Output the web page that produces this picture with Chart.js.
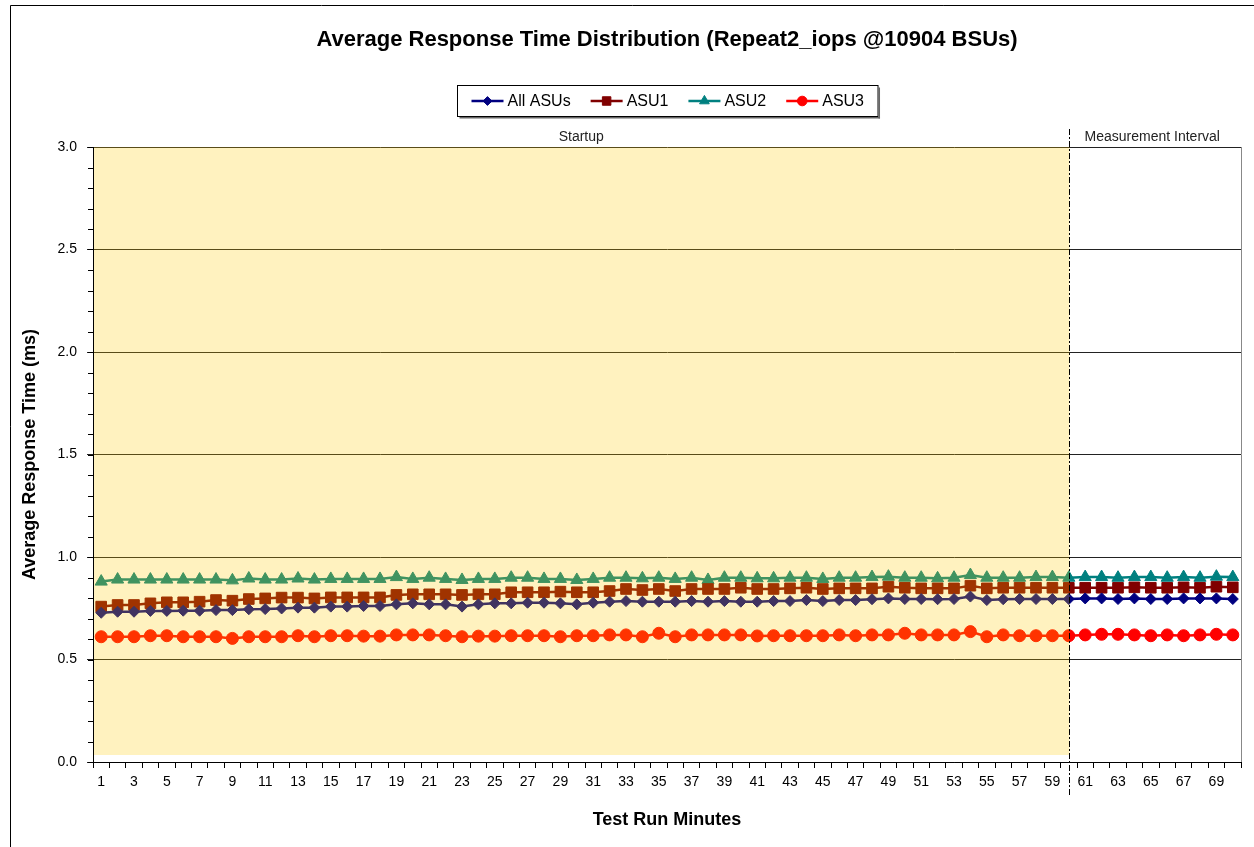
<!DOCTYPE html>
<html>
<head>
<meta charset="utf-8">
<script src="https://cdn.jsdelivr.net/npm/chart.js@4.4.1/dist/chart.umd.min.js"></script>
<style>
  html, body { margin: 0; padding: 0; background: #fff; }
</style>
</head>
<body>
<canvas id="rtChart" width="1254" height="847"></canvas>
<script>
// CHART DATA
var minutes = [];
for (var i = 1; i <= 70; i++) minutes.push(String(i));

var allAsus = [0.728, 0.733, 0.733, 0.737, 0.737, 0.738, 0.738, 0.741, 0.741, 0.745,
  0.746, 0.749, 0.753, 0.753, 0.758, 0.758, 0.761, 0.761, 0.769, 0.774,
  0.769, 0.769, 0.758, 0.769, 0.774, 0.774, 0.777, 0.777, 0.774, 0.769,
  0.777, 0.782, 0.785, 0.782, 0.782, 0.782, 0.785, 0.782, 0.785, 0.782,
  0.782, 0.785, 0.785, 0.790, 0.785, 0.790, 0.790, 0.794, 0.798, 0.795,
  0.795, 0.794, 0.795, 0.807, 0.790, 0.794, 0.795, 0.795, 0.795, 0.795,
  0.798, 0.798, 0.795, 0.798, 0.795, 0.795, 0.798, 0.798, 0.798, 0.795];

var asu1 = [0.758, 0.766, 0.766, 0.774, 0.779, 0.779, 0.782, 0.790, 0.787, 0.795,
  0.798, 0.802, 0.802, 0.798, 0.803, 0.803, 0.803, 0.803, 0.815, 0.818,
  0.818, 0.818, 0.815, 0.818, 0.818, 0.828, 0.828, 0.828, 0.831, 0.828,
  0.828, 0.834, 0.844, 0.839, 0.844, 0.834, 0.844, 0.844, 0.844, 0.850,
  0.844, 0.844, 0.847, 0.850, 0.844, 0.847, 0.847, 0.847, 0.855, 0.850,
  0.847, 0.847, 0.847, 0.860, 0.847, 0.850, 0.850, 0.850, 0.850, 0.850,
  0.850, 0.850, 0.850, 0.852, 0.850, 0.850, 0.852, 0.850, 0.855, 0.852];

var asu2 = [0.880, 0.890, 0.890, 0.890, 0.890, 0.890, 0.890, 0.890, 0.886, 0.895,
  0.890, 0.890, 0.895, 0.890, 0.893, 0.893, 0.893, 0.893, 0.902, 0.893,
  0.899, 0.893, 0.888, 0.893, 0.893, 0.899, 0.899, 0.893, 0.893, 0.888,
  0.893, 0.899, 0.899, 0.896, 0.899, 0.893, 0.899, 0.888, 0.899, 0.899,
  0.896, 0.896, 0.899, 0.899, 0.893, 0.899, 0.899, 0.902, 0.904, 0.899,
  0.899, 0.896, 0.899, 0.912, 0.899, 0.899, 0.899, 0.902, 0.902, 0.899,
  0.902, 0.902, 0.899, 0.902, 0.902, 0.899, 0.902, 0.899, 0.904, 0.902];

var asu3 = [0.611, 0.611, 0.611, 0.616, 0.616, 0.611, 0.611, 0.611, 0.603, 0.611,
  0.611, 0.611, 0.616, 0.611, 0.616, 0.616, 0.614, 0.614, 0.620, 0.620,
  0.620, 0.616, 0.611, 0.614, 0.614, 0.616, 0.616, 0.616, 0.611, 0.616,
  0.616, 0.620, 0.620, 0.611, 0.628, 0.611, 0.620, 0.620, 0.620, 0.620,
  0.615, 0.616, 0.616, 0.616, 0.616, 0.620, 0.616, 0.620, 0.620, 0.628,
  0.620, 0.620, 0.620, 0.636, 0.611, 0.620, 0.616, 0.616, 0.616, 0.616,
  0.620, 0.623, 0.623, 0.620, 0.616, 0.620, 0.616, 0.620, 0.623, 0.620];

var startupEnd = '60';   // last minute of the startup phase
var phaseNames = ['Startup', 'Measurement Interval'];
var chartTitle = 'Average Response Time Distribution (Repeat2_iops @10904 BSUs)';

var FONT = '"Liberation Sans", Arial, sans-serif';

function series(label, data, color, style, radius) {
  return {
    label: label,
    data: data,
    borderColor: color,
    backgroundColor: color,
    borderWidth: 2.5,
    pointStyle: style,
    pointRadius: radius,
    pointBorderWidth: 1,
    pointBorderColor: color,
    pointBackgroundColor: color,
    tension: 0,
    fill: false
  };
}

// EXTRA DRAWING - title, legend box, phase shading, minor ticks
var decorPlugin = {
  id: 'decor',
  beforeDraw: function (chart) {
    var ctx = chart.ctx;
    ctx.save();
    ctx.fillStyle = '#fff';
    ctx.fillRect(0, 0, chart.width, chart.height);
    ctx.restore();
  },
  afterDatasetsDraw: function (chart) {
    var ctx = chart.ctx;
    var area = chart.chartArea;
    var xs = chart.scales.x;
    var ys = chart.scales.y;
    var splitX = Math.round(xs.getPixelForValue(minutes.indexOf(startupEnd))) + 0.5;

    ctx.save();
    // startup shading (semi transparent, lies over the lines)
    ctx.fillStyle = 'rgba(255, 204, 0, 0.25)';
    ctx.fillRect(area.left + 1, area.top, splitX - area.left - 1, ys.getPixelForValue(0) - 7 - area.top);

    // right border of plot
    ctx.strokeStyle = '#888';
    ctx.lineWidth = 1;
    ctx.beginPath();
    ctx.moveTo(area.right + 0.5, area.top);
    ctx.lineTo(area.right + 0.5, area.bottom);
    ctx.stroke();

    // phase divider
    ctx.strokeStyle = '#000';
    ctx.setLineDash([6, 2, 2, 2]);
    ctx.beginPath();
    ctx.moveTo(splitX, area.top - 18);
    ctx.lineTo(splitX, area.bottom + 33);
    ctx.stroke();
    ctx.setLineDash([]);

    // phase labels
    ctx.fillStyle = '#222';
    ctx.font = '14px ' + FONT;
    ctx.textAlign = 'center';
    ctx.textBaseline = 'middle';
    ctx.fillText(phaseNames[0], (area.left + splitX) / 2, area.top - 10);
    ctx.fillText(phaseNames[1], (splitX + area.right) / 2 - 3, area.top - 10);

    // minor ticks on y axis
    ctx.strokeStyle = '#000';
    ctx.beginPath();
    for (var t = 0; t <= 30; t++) {
      var py = Math.round(ys.getPixelForValue(t / 10)) + 0.5;
      ctx.moveTo(area.left - 5, py);
      ctx.lineTo(area.left, py);
    }
    ctx.stroke();

    // outer frame
    ctx.beginPath();
    ctx.moveTo(10.5, chart.height);
    ctx.lineTo(10.5, 5.5);
    ctx.lineTo(chart.width, 5.5);
    ctx.stroke();

    // title
    var midX = (area.left + area.right) / 2;
    ctx.fillStyle = '#000';
    ctx.font = 'bold 22px ' + FONT;
    ctx.fillText(chartTitle, midX, 40);

    // legend
    ctx.font = '16px ' + FONT;
    var sets = chart.data.datasets;
    var lineW = 32, gap = 4, space = 20, pad = 14;
    var total = pad * 2 - space;
    sets.forEach(function (ds) { total += lineW + gap + ctx.measureText(ds.label).width + space; });
    var bx = Math.round(midX - total / 2) + 0.5;
    var by = 85.5, bh = 31;
    ctx.strokeStyle = '#000';
    ctx.strokeRect(bx, by, total, bh);
    ctx.fillStyle = '#666';
    ctx.fillRect(bx + 2, by + bh + 0.5, total, 1.5);
    ctx.fillRect(bx + total + 0.5, by + 2, 1.5, bh);
    var cx = bx + pad;
    var cy = by + bh / 2;
    sets.forEach(function (ds) {
      ctx.strokeStyle = ds.borderColor;
      ctx.lineWidth = 2.5;
      ctx.beginPath();
      ctx.moveTo(cx, cy);
      ctx.lineTo(cx + lineW, cy);
      ctx.stroke();
      ctx.fillStyle = ds.borderColor;
      ctx.lineWidth = 1;
      Chart.helpers.drawPoint(ctx, { pointStyle: ds.pointStyle, radius: ds.pointRadius * 0.8, borderWidth: 1, rotation: 0 }, cx + lineW / 2, cy);
      ctx.fillStyle = '#000';
      ctx.textAlign = 'left';
      ctx.fillText(ds.label, cx + lineW + gap, cy + 1);
      cx += lineW + gap + ctx.measureText(ds.label).width + space;
    });
    ctx.restore();
  }
};

var ctx = document.getElementById('rtChart').getContext('2d');
var chart = new Chart(ctx, {
  type: 'line',
  data: {
    labels: minutes,
    datasets: [
      series('All ASUs', allAsus, '#000080', 'rectRot', 5.5),
      series('ASU1', asu1, '#800000', 'rect', 7.5),
      series('ASU2', asu2, '#008080', 'triangle', 7),
      series('ASU3', asu3, '#ff0000', 'circle', 6)
    ]
  },
  options: {
    responsive: false,
    animation: false,
    devicePixelRatio: 1,
    layout: { padding: { left: 0, right: 13, top: 147, bottom: 0 } },
    plugins: {
      legend: { display: false },
      tooltip: { enabled: false },
      title: { display: false }
    },
    scales: {
      x: {
        type: 'category',
        offset: true,
        afterFit: function (scale) { scale.height = 85; },
        grid: { display: true, drawOnChartArea: false, drawTicks: true, tickLength: 6, offset: true, color: '#000' },
        border: { display: true, color: '#000', width: 1 },
        ticks: {
          autoSkip: false,
          maxRotation: 0,
          padding: 6,
          color: '#000',
          font: { family: FONT, size: 14 },
          callback: function (val, idx) { return idx % 2 === 0 ? this.getLabelForValue(val) : ''; }
        },
        title: {
          display: true,
          text: 'Test Run Minutes',
          color: '#000',
          font: { family: FONT, size: 18, weight: 'bold' },
          padding: { top: 0, bottom: 16 }
        }
      },
      y: {
        min: 0,
        max: 3,
        afterFit: function (scale) { scale.width = 93; },
        grid: { color: '#222', lineWidth: 1, tickLength: 6 },
        border: { display: true, color: '#000', width: 1 },
        ticks: {
          stepSize: 0.5,
          padding: 10,
          color: '#000',
          font: { family: FONT, size: 14 },
          callback: function (v) { return v.toFixed(1); }
        },
        title: {
          display: true,
          text: 'Average Response Time (ms)',
          color: '#000',
          font: { family: FONT, size: 18, weight: 'bold' },
          padding: { top: 19, bottom: 0 }
        }
      }
    }
  },
  plugins: [decorPlugin]
});
</script>
</body>
</html>
